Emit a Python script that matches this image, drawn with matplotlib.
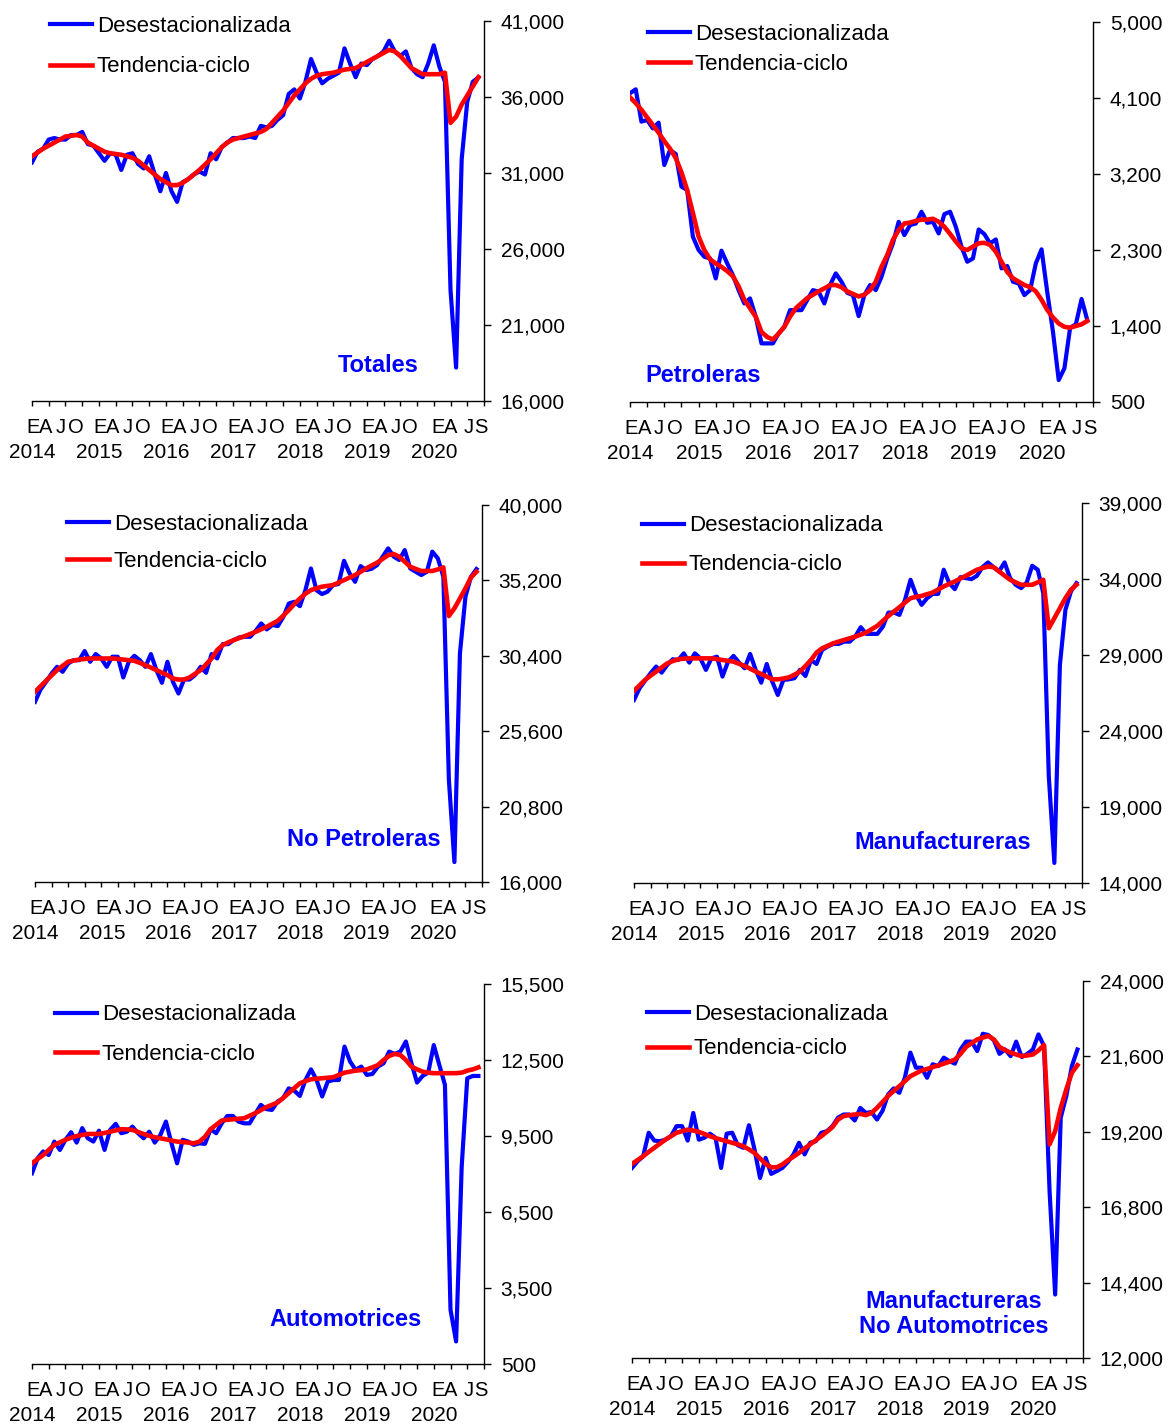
"""
Exportaciones: series desestacionalizadas y tendencia-ciclo (6 paneles)
"""

import matplotlib
matplotlib.use("Agg")
import matplotlib.pyplot as plt
from matplotlib.ticker import FuncFormatter

plt.rcParams['font.family'] = ['Liberation Sans', 'DejaVu Sans']

# ---------- Data (monthly, Jan 2014 - Sep 2020) ----------

months = list(range(81))

tot_desest = [31700, 32400, 32600, 33200, 33300, 33200, 33200, 33500, 33500, 33700, 32900, 32800,
              32300, 31800, 32300, 32200, 31200, 32200, 32300, 31600, 31300, 32100, 30900, 29800,
              31000, 29800, 29100, 30400, 30600, 30900, 31100, 30900, 32300, 31900, 32700, 33000,
              33300, 33300, 33300, 33400, 33300, 34100, 34000, 34100, 34500, 34800, 36200, 36500,
              35900, 37000, 38500, 37600, 36900, 37200, 37400, 37600, 39200, 38200, 37300, 38200,
              38100, 38500, 38700, 39000, 39700, 39000, 38700, 39000, 37900, 37500, 37300, 38200,
              39400, 38000, 37000, 23300, 18200, 31900, 35700, 37000, 37300]
tot_tend = [32100, 32350, 32600, 32800, 33000, 33200, 33400, 33450, 33500, 33400, 33000, 32800,
            32600, 32400, 32300, 32250, 32200, 32100, 32000, 31800, 31500, 31200, 30900, 30600,
            30400, 30200, 30200, 30350, 30600, 30900, 31200, 31550, 31900, 32300, 32700, 33000,
            33200, 33300, 33400, 33500, 33600, 33700, 33900, 34300, 34700, 35100, 35600, 36100,
            36500, 36900, 37200, 37400, 37500, 37550, 37600, 37700, 37800, 37850, 37900, 38100,
            38300, 38500, 38700, 38900, 39100, 39000, 38700, 38300, 37900, 37700, 37500, 37500,
            37500, 37500, 37600, 34300, 34700, 35500, 36100, 36700, 37300]

pet_desest = [4156, 4203, 3820, 3840, 3740, 3808, 3306, 3484, 3437, 3050, 3011, 2458,
              2300, 2220, 2200, 1963, 2292, 2142, 2003, 1825, 1667, 1727, 1510, 1194,
              1194, 1194, 1312, 1391, 1588, 1588, 1588, 1707, 1825, 1806, 1667, 1885,
              2023, 1924, 1794, 1766, 1517, 1766, 1885, 1825, 1983, 2200, 2378, 2634,
              2476, 2595, 2614, 2753, 2622, 2634, 2496, 2725, 2753, 2575, 2338, 2161,
              2200, 2543, 2488, 2378, 2425, 2082, 2110, 1924, 1904, 1766, 1825, 2142,
              2308, 1800, 1330, 760, 900, 1380, 1420, 1720, 1470]
pet_tend = [4108, 4040, 3960, 3870, 3780, 3690, 3590, 3500, 3390, 3220, 3010, 2740,
            2460, 2300, 2190, 2140, 2100, 2050, 1990, 1870, 1710, 1610, 1510, 1330,
            1270, 1240, 1310, 1390, 1510, 1610, 1670, 1730, 1770, 1810, 1845, 1885,
            1885, 1860, 1810, 1780, 1750, 1770, 1825, 1925, 2100, 2240, 2420, 2535,
            2614, 2625, 2645, 2660, 2660, 2670, 2634, 2575, 2490, 2400, 2320, 2300,
            2340, 2380, 2385, 2360, 2280, 2160, 2040, 1965, 1925, 1885, 1860, 1810,
            1710, 1590, 1500, 1430, 1390, 1380, 1400, 1420, 1460]

nopet_desest = [27470, 28250, 28740, 29270, 29700, 29380, 29910, 30120, 30120, 30700, 30020, 30510,
                30230, 29700, 30340, 30340, 29020, 30020, 30400, 30120, 29700, 30510, 29490, 28680,
                30020, 28740, 28000, 28890, 28890, 29170, 29700, 29320, 30510, 30230, 31140, 31140,
                31400, 31570, 31610, 31610, 32000, 32460, 32080, 32360, 32290, 32880, 33730, 33840,
                33560, 34580, 35960, 34580, 34330, 34480, 34900, 34970, 36450, 35650, 35110, 36110,
                35860, 35940, 36180, 36710, 37240, 36710, 36500, 37130, 35960, 35750, 35540, 35750,
                37030, 36600, 35430, 22500, 17270, 30550, 34160, 35430, 35920]
nopet_tend = [28110, 28460, 28810, 29150, 29490, 29760, 30020, 30100, 30160, 30200, 30230, 30230,
              30230, 30230, 30230, 30200, 30160, 30120, 30080, 29950, 29800, 29650, 29490, 29330,
              29170, 28950, 28890, 28890, 29020, 29250, 29490, 29850, 30230, 30760, 31080, 31250,
              31400, 31530, 31650, 31790, 31930, 32090, 32250, 32440, 32630, 32960, 33310, 33700,
              34050, 34350, 34580, 34700, 34800, 34850, 34900, 35060, 35220, 35380, 35540, 35750,
              35960, 36150, 36330, 36570, 36810, 36880, 36710, 36390, 36070, 35930, 35800, 35800,
              35800, 35900, 36030, 32930, 33420, 34050, 34690, 35390, 35750]

manuf_desest = [26040, 26810, 27310, 27800, 28240, 27840, 28340, 28720, 28670, 29110, 28500, 29110,
                28780, 28020, 28780, 28890, 27580, 28560, 28940, 28500, 28130, 29070, 28020, 27180,
                28410, 27250, 26370, 27360, 27400, 27470, 28020, 27620, 28670, 28410, 29330, 29550,
                29730, 29730, 29880, 29880, 30210, 30830, 30390, 30390, 30390, 30870, 31790, 31790,
                31640, 32630, 33950, 32960, 32300, 32740, 33020, 33020, 34610, 33730, 33330, 34120,
                34060, 33990, 34210, 34780, 35090, 34780, 34500, 35090, 34060, 33620, 33400, 33770,
                34870, 34610, 33070, 21000, 15320, 28340, 31970, 33180, 33730]
manuf_tend = [26650, 27000, 27360, 27640, 27910, 28180, 28450, 28600, 28720, 28760, 28780, 28780,
              28780, 28780, 28780, 28730, 28670, 28620, 28560, 28420, 28280, 28100, 27910, 27750,
              27580, 27400, 27400, 27450, 27530, 27700, 27910, 28280, 28670, 29160, 29440, 29600,
              29770, 29880, 29990, 30100, 30210, 30340, 30480, 30700, 30920, 31250, 31570, 31860,
              32150, 32450, 32740, 32820, 32890, 33000, 33110, 33310, 33510, 33680, 33840, 34030,
              34210, 34410, 34610, 34720, 34820, 34780, 34500, 34220, 33950, 33780, 33620, 33620,
              33620, 33780, 33950, 30760, 31420, 32080, 32740, 33290, 33620]

auto_desest = [8030, 8620, 8890, 8750, 9280, 8950, 9350, 9650, 9240, 9810, 9410, 9280,
               9710, 8950, 9740, 9980, 9610, 9670, 9870, 9610, 9410, 9670, 9240, 9540,
               10070, 9210, 8420, 9350, 9280, 9150, 9210, 9190, 9770, 9610, 10000, 10290,
               10290, 10070, 10000, 10000, 10370, 10730, 10560, 10530, 10860, 10990, 11380, 11290,
               11080, 11710, 12130, 11710, 11060, 11650, 11710, 11710, 13030, 12440, 12110, 12240,
               11910, 11950, 12240, 12370, 12830, 12740, 12830, 13230, 12370, 11610, 11870, 12000,
               13090, 12300, 11520, 2640, 1390, 8290, 11780, 11870, 11870]
auto_tend = [8420, 8590, 8750, 8950, 9150, 9250, 9350, 9430, 9500, 9540, 9580, 9580,
             9580, 9620, 9670, 9720, 9770, 9760, 9740, 9660, 9580, 9510, 9450, 9410,
             9370, 9320, 9280, 9260, 9240, 9210, 9280, 9470, 9770, 9940, 10110, 10140,
             10160, 10180, 10200, 10300, 10400, 10520, 10640, 10730, 10820, 11000, 11190, 11390,
             11580, 11670, 11740, 11760, 11780, 11800, 11820, 11910, 12000, 12040, 12080, 12100,
             12130, 12210, 12300, 12500, 12660, 12740, 12700, 12500, 12240, 12130, 12040, 12000,
             11980, 11980, 11980, 11980, 11980, 12000, 12080, 12130, 12210]

mna_desest = [18050, 18260, 18420, 19170, 18920, 18900, 18950, 19060, 19380, 19380, 18920, 19800,
              18950, 19010, 19140, 19010, 18050, 19140, 19170, 18770, 18690, 19410, 18640, 17730,
              18370, 17860, 17950, 18050, 18240, 18480, 18850, 18480, 18850, 18900, 19170, 19220,
              19380, 19650, 19750, 19750, 19560, 19960, 19800, 19830, 19590, 19870, 20390, 20580,
              20440, 20920, 21720, 21240, 21240, 20920, 21350, 21290, 21560, 21450, 21370, 21820,
              22070, 22070, 21770, 22320, 22280, 22110, 21680, 21820, 21610, 22070, 21580, 21680,
              21820, 22300, 21930, 17300, 14020, 19650, 20340, 21290, 21820]
mna_tend = [18180, 18300, 18420, 18560, 18690, 18820, 18950, 19060, 19170, 19220, 19270, 19240,
            19200, 19130, 19060, 19000, 18950, 18900, 18850, 18800, 18740, 18640, 18530, 18350,
            18180, 18070, 18070, 18160, 18290, 18410, 18530, 18670, 18800, 18930, 19060, 19200,
            19350, 19590, 19700, 19730, 19750, 19770, 19730, 19800, 19960, 20150, 20340, 20500,
            20650, 20810, 20970, 21060, 21150, 21200, 21260, 21310, 21370, 21430, 21500, 21680,
            21900, 22020, 22140, 22200, 22250, 22140, 21900, 21800, 21720, 21660, 21610, 21630,
            21660, 21790, 21960, 18800, 19220, 19960, 20550, 21080, 21320]

# axis labels
quarter_ticks = list(range(0, 82, 3))
letter_pos = []
letter_lbl = []
for k in range(6):
    letter_pos += [12 * k + 0.2, 12 * k + 2.5, 12 * k + 5.1, 12 * k + 7.8]
    letter_lbl += ['E', 'A', 'J', 'O']
letter_pos += [72.7, 75.1, 78.2, 80.4]
letter_lbl += ['E', 'A', 'J', 'S']
year_pos = [12 * k + 0.1 for k in range(7)]
year_lbl = ['2014', '2015', '2016', '2017', '2018', '2019', '2020']

# ---------- Panel layout (pixels) ----------
W, H = 1171, 1424

panels = [
    dict(name="Totales", blue=tot_desest, red=tot_tend,
         ylim=(16000, 41000), step=5000, box=(32, 21, 484, 401),
         leg=(50, 24, 41), title_xy=(378, 366)),
    dict(name="Petroleras", blue=pet_desest, red=pet_tend,
         ylim=(500, 5000), step=900, box=(630, 22, 1093, 402),
         leg=(648, 32, 30), title_xy=(703, 375)),
    dict(name="No Petroleras", blue=nopet_desest, red=nopet_tend,
         ylim=(16000, 40000), step=4800, box=(35, 505, 482, 882),
         leg=(67, 522, 37), title_xy=(364, 840)),
    dict(name="Manufactureras", blue=manuf_desest, red=manuf_tend,
         ylim=(14000, 39000), step=5000, box=(634, 503, 1082, 883),
         leg=(642, 524, 39), title_xy=(943, 843)),
    dict(name="Automotrices", blue=auto_desest, red=auto_tend,
         ylim=(500, 15500), step=3000, box=(32, 984, 484, 1364),
         leg=(55, 1013, 39), title_xy=(346, 1320)),
    dict(name="Manufactureras\nNo Automotrices", blue=mna_desest, red=mna_tend,
         ylim=(12000, 24000), step=2400, box=(632, 981, 1083, 1358),
         leg=(647, 1012, 35), title_xy=(954, 1314)),
]


def to_axes(box, x, y):
    L, T, R, B = box
    return (x - L) / (R - L), (B - y) / (B - T)


def draw_panel(fig, p):
    L, T, R, B = p["box"]
    ax = fig.add_axes([L / W, 1 - B / H, (R - L) / W, (B - T) / H])

    lb, = ax.plot(months, p["blue"], color="#0000FF", lw=3.0,
                  solid_joinstyle="round", label="Desestacionalizada")
    lr, = ax.plot(months, p["red"], color="#FF0000", lw=3.3,
                  solid_joinstyle="round", label="Tendencia-ciclo")

    lo, hi = p["ylim"]
    ax.set_xlim(0, 81)
    ax.set_ylim(lo, hi)
    ax.set_yticks(list(range(lo, hi + 1, p["step"])))
    ax.yaxis.set_major_formatter(FuncFormatter(lambda v, _: f"{v:,.0f}"))

    for s in ("left", "top"):
        ax.spines[s].set_visible(False)
    for s in ("right", "bottom"):
        ax.spines[s].set_linewidth(1.0)
    ax.yaxis.tick_right()
    ax.tick_params(axis="y", direction="out", length=5, width=1.0,
                   pad=7, labelsize=15)

    # quarter tick marks + month letters
    ax.set_xticks(quarter_ticks, minor=True)
    ax.set_xticks(letter_pos)
    ax.set_xticklabels(letter_lbl)
    ax.tick_params(axis="x", which="minor", direction="out", length=3.3, width=1.0)
    ax.tick_params(axis="x", which="major", length=0, pad=12, labelsize=14.5)

    # years on a second row
    sec = ax.secondary_xaxis("bottom")
    sec.spines["bottom"].set_visible(False)
    sec.set_xticks(year_pos)
    sec.set_xticklabels(year_lbl)
    sec.tick_params(axis="x", length=0, pad=30, labelsize=15)

    # legend
    lx, ly, gap = p["leg"]
    row_h = 21.0
    fs_px = 16 * 100 / 72
    ax_x, ax_y = to_axes(p["box"], lx, ly - 8.5)
    ax.legend(handles=[lb, lr], loc="upper left", bbox_to_anchor=(ax_x, ax_y),
              frameon=False, borderpad=0, borderaxespad=0, fontsize=16,
              handlelength=1.9, handletextpad=0.2,
              labelspacing=(gap - row_h) / fs_px)

    tx, ty = to_axes(p["box"], *p["title_xy"])
    ax.text(tx, ty, p["name"], transform=ax.transAxes, ha="center", va="center",
            color="#0000FF", fontsize=17, fontweight="bold", linespacing=1.15)


if __name__ == "__main__":
    fig = plt.figure(figsize=(W / 100, H / 100), dpi=100)
    for p in panels:
        draw_panel(fig, p)
    fig.savefig("out.png", dpi=100)
    plt.close(fig)
